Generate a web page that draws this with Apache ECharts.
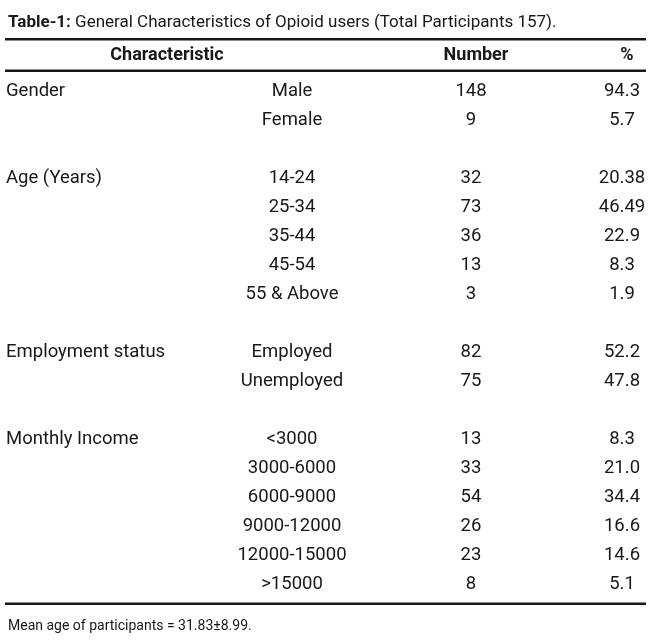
<!DOCTYPE html>
<html>
<head>
<meta charset="utf-8">
<script src="https://cdn.jsdelivr.net/npm/echarts@6/dist/echarts.min.js"></script>
<style>
html, body { margin: 0; padding: 0; background: #fff; }
#chart { width: 650px; height: 640px; }
</style>
</head>
<body>
<div id="chart"></div>
<script>
// table data
var groups = ['Gender', 'Age (Years)', 'Employment status', 'Monthly Income'];
var subgroups = [
	['Male', 'Female'],
	['14-24', '25-34', '35-44', '45-54', '55 & Above'],
	['Employed', 'Unemployed'],
	['<3000', '3000-6000', '6000-9000', '9000-12000', '12000-15000', '>15000']
];
var counts = [
	[148, 9],
	[32, 73, 36, 13, 3],
	[82, 75],
	[13, 33, 54, 26, 23, 8]
];
var percents = [
	['94.3', '5.7'],
	['20.38', '46.49', '22.9', '8.3', '1.9'],
	['52.2', '47.8'],
	['8.3', '21.0', '34.4', '16.6', '14.6', '5.1']
];
var headers = ['Characteristic', 'Number', '%'];
var titleBold = 'Table-1:';
var titleText = ' General Characteristics of Opioid users (Total Participants 157).';
var footnote = 'Mean age of participants = 31.83\u00b18.99.';

// layout (column anchors in px along x axis)
var colGroup = 6, colSub = 292, colNum = 471, colPct = 622;
var FONT = 'Roboto, "Liberation Sans", sans-serif';
var INK = '#1a1718';

// build rows, a blank row between groups
var rowNames = [];
var groupPts = [], subPts = [], numPts = [], pctPts = [];
groups.forEach(function(g, gi) {
	if (gi > 0) rowNames.push('');
	subgroups[gi].forEach(function(s, si) {
		var r = rowNames.length;
		rowNames.push(s);
		if (si === 0) groupPts.push({ value: [colGroup, r], name: g });
		subPts.push({ value: [colSub, r], name: s });
		numPts.push({ value: [colNum, r], name: String(counts[gi][si]) });
		pctPts.push({ value: [colPct, r], name: percents[gi][si] });
	});
});

function textSeries(data, align) {
	return {
		type: 'scatter',
		symbol: 'circle',
		symbolSize: 1,
		itemStyle: { color: 'rgba(0,0,0,0)', opacity: 1 },
		silent: true,
		emphasis: { disabled: true },
		data: data,
		label: {
			show: true,
			position: 'inside',
			align: align,
			verticalAlign: 'middle',
			formatter: function(p) { return p.name; },
			fontFamily: FONT,
			fontSize: 18.5,
			color: INK,
			opacity: 1,
			textBorderWidth: 0
		}
	};
}

var chart = echarts.init(document.getElementById('chart'));
var headStyle = { fontFamily: FONT, fontSize: 18, fontWeight: 'bold', color: INK };
var option = {
	backgroundColor: '#fff',
	animation: false,
	title: [{
		text: '{b|' + titleBold + '}{r|' + titleText + '}',
		left: 3, top: 9,
		textStyle: {
			fontWeight: 'normal',
			rich: {
				b: { fontFamily: FONT, fontSize: 17, fontWeight: 'bold', color: INK },
				r: { fontFamily: FONT, fontSize: 17, fontWeight: 'normal', color: INK }
			}
		}
	}, {
		text: headers[0], left: 162, top: 41, textAlign: 'center', textStyle: headStyle
	}, {
		text: headers[1], left: colNum, top: 41, textAlign: 'center', textStyle: headStyle
	}, {
		text: headers[2], left: colPct, top: 41, textAlign: 'center', textStyle: headStyle
	}, {
		text: footnote, left: 3, top: 614,
		textStyle: { fontFamily: FONT, fontSize: 14, fontWeight: 'normal', color: INK }
	}],
	grid: { left: 0, right: 0, top: 77, bottom: 41 },
	xAxis: { type: 'value', min: 0, max: 650, show: false },
	yAxis: { type: 'category', data: rowNames, inverse: true, show: false },
	series: [
		textSeries(groupPts, 'left'),
		textSeries(subPts, 'center'),
		textSeries(numPts, 'center'),
		textSeries(pctPts, 'center')
	],
	graphic: [
		{ type: 'rect', shape: { x: 5, y: 38, width: 641, height: 2.5 }, style: { fill: INK } },
		{ type: 'rect', shape: { x: 5, y: 69.5, width: 641, height: 2.5 }, style: { fill: INK } },
		{ type: 'rect', shape: { x: 5, y: 602.5, width: 641, height: 2.5 }, style: { fill: INK } }
	]
};
chart.setOption(option);
</script>
</body>
</html>
